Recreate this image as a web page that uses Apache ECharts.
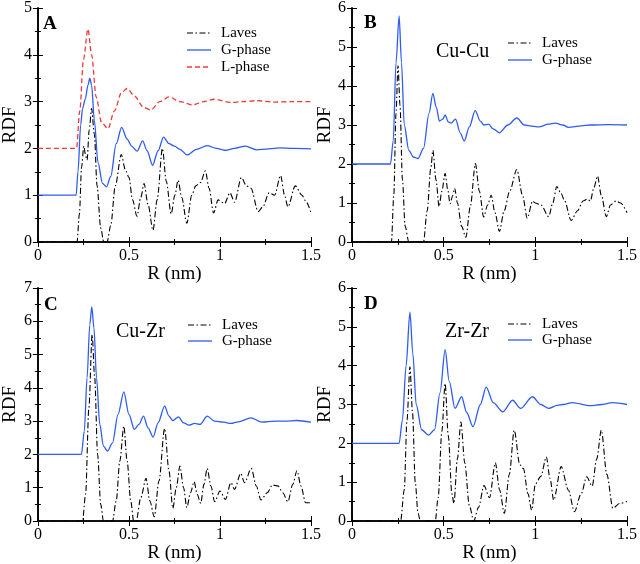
<!DOCTYPE html>
<html>
<head>
<meta charset="utf-8">
<script src="https://cdn.jsdelivr.net/npm/echarts@6/dist/echarts.min.js"></script>
<style>html,body{margin:0;padding:0;background:#fff}#c{width:640px;height:564px}</style>
</head>
<body>
<div id="c"></div>
<script>
// ---- Data: [R (nm), RDF] ----
const xTicks = [0, 0.5, 1, 1.5];
const yMaxA = 5, yMaxB = 6, yMaxC = 7, yMaxD = 6;

const aLaves = [[0,0],[0.215,0],[0.228,0.6],[0.24,1.6],[0.252,2.05],[0.262,1.85],[0.27,1.75],[0.282,2.4],[0.295,2.85],[0.31,2.3],[0.325,1.2],[0.345,0.3],[0.362,0],[0.38,0],[0.4,0.35],[0.425,1.2],[0.458,1.87],[0.48,1.55],[0.5,1.38],[0.52,0.9],[0.544,0.55],[0.565,0.95],[0.583,1.25],[0.605,0.8],[0.632,0.25],[0.655,0.9],[0.684,2.0],[0.705,1.3],[0.732,0.6],[0.752,1.0],[0.77,1.32],[0.79,0.95],[0.818,0.4],[0.845,1.0],[0.867,1.2],[0.893,1.27],[0.92,1.52],[0.94,1.15],[0.965,0.62],[0.99,0.9],[1.01,0.85],[1.025,0.82],[1.055,1.05],[1.08,0.85],[1.118,1.38],[1.145,1.2],[1.17,1.15],[1.21,0.65],[1.235,0.75],[1.27,1.05],[1.3,1.0],[1.333,1.42],[1.355,1.0],[1.373,0.75],[1.414,1.2],[1.45,1.0],[1.475,0.85],[1.5,0.62]];
const aGphase = [[0,1],[0.21,1],[0.22,1.5],[0.235,2.5],[0.245,2.85],[0.26,3.05],[0.275,3.35],[0.285,3.5],[0.295,3.35],[0.31,2.6],[0.33,1.7],[0.355,1.25],[0.377,1.18],[0.4,1.4],[0.43,2.1],[0.46,2.45],[0.49,2.2],[0.515,2.05],[0.545,1.94],[0.575,2.16],[0.6,1.95],[0.63,1.64],[0.66,1.95],[0.69,2.24],[0.72,2.1],[0.75,2.05],[0.78,1.98],[0.82,1.86],[0.87,1.98],[0.93,2.06],[0.98,2.0],[1.03,1.96],[1.08,2.0],[1.14,2.05],[1.2,1.97],[1.27,1.99],[1.33,2.01],[1.4,2.0],[1.5,1.99]];
const aLphase = [[0,2],[0.212,2],[0.23,2.8],[0.25,3.9],[0.275,4.55],[0.295,4.0],[0.32,3.1],[0.35,2.55],[0.385,2.42],[0.42,2.8],[0.46,3.2],[0.49,3.28],[0.53,3.12],[0.58,2.88],[0.62,2.82],[0.67,3.0],[0.72,3.1],[0.78,3.0],[0.85,2.93],[0.91,3.0],[0.97,3.05],[1.06,2.98],[1.13,3.0],[1.2,3.02],[1.3,2.99],[1.4,3.0],[1.5,3.0]];

const bLaves = [[0,0],[0.215,0],[0.228,1.2],[0.24,3.3],[0.251,4.52],[0.262,3.5],[0.275,1.6],[0.29,0.4],[0.31,0],[0.39,0],[0.41,0.8],[0.43,1.9],[0.441,2.35],[0.458,1.6],[0.475,0.91],[0.49,1.3],[0.508,1.76],[0.522,1.35],[0.535,0.98],[0.55,1.2],[0.56,1.38],[0.575,1.0],[0.598,0.4],[0.621,0.12],[0.645,0.9],[0.673,2.01],[0.695,1.3],[0.718,0.64],[0.74,0.95],[0.759,1.2],[0.78,0.75],[0.804,0.27],[0.83,0.8],[0.86,1.3],[0.899,1.86],[0.93,1.2],[0.956,0.61],[0.985,1.05],[1.0,1.0],[1.03,0.95],[1.073,0.65],[1.095,1.0],[1.117,1.42],[1.14,1.25],[1.16,1.05],[1.195,0.55],[1.23,0.8],[1.26,1.05],[1.285,1.1],[1.3,1.05],[1.32,1.4],[1.339,1.69],[1.36,1.2],[1.387,0.65],[1.41,0.95],[1.44,1.05],[1.465,1.0],[1.5,0.75]];
const bGphase = [[0,2],[0.21,2],[0.225,2.6],[0.24,4.6],[0.257,5.8],[0.27,4.6],[0.285,3.0],[0.31,2.35],[0.335,2.18],[0.36,2.14],[0.39,2.4],[0.42,3.3],[0.441,3.81],[0.46,3.45],[0.477,3.1],[0.495,3.15],[0.508,3.26],[0.525,3.08],[0.54,3.05],[0.565,3.15],[0.59,2.8],[0.612,2.59],[0.64,2.95],[0.672,3.37],[0.7,3.1],[0.72,3.0],[0.745,3.02],[0.77,2.9],[0.804,2.8],[0.85,3.0],[0.899,3.18],[0.94,3.0],[0.97,2.98],[1.02,2.95],[1.07,3.02],[1.11,3.05],[1.15,3.0],[1.18,2.94],[1.25,2.98],[1.3,3.0],[1.4,3.01],[1.5,3.0]];

const cLaves = [[0,0],[0.245,0],[0.262,0.8],[0.28,3.4],[0.298,5.6],[0.312,4.3],[0.328,2.0],[0.345,0.5],[0.36,0],[0.41,0],[0.43,0.6],[0.45,1.8],[0.472,2.85],[0.49,1.8],[0.51,0.6],[0.526,0],[0.54,0],[0.565,0.7],[0.594,1.28],[0.615,0.6],[0.639,0.13],[0.665,1.2],[0.696,2.78],[0.72,1.5],[0.741,0.38],[0.76,1.0],[0.78,1.65],[0.8,1.0],[0.818,0.4],[0.838,0.85],[0.858,1.18],[0.875,0.8],[0.894,0.53],[0.912,1.1],[0.93,1.58],[0.95,1.05],[0.971,0.58],[1.0,0.9],[1.03,0.65],[1.06,1.15],[1.08,0.95],[1.114,1.43],[1.135,1.15],[1.172,1.58],[1.2,1.05],[1.225,0.63],[1.26,0.85],[1.288,1.08],[1.32,1.05],[1.345,0.85],[1.373,0.58],[1.4,1.1],[1.423,1.51],[1.445,1.05],[1.47,0.55],[1.5,0.55]];
const cGphase = [[0,2],[0.239,2],[0.255,2.7],[0.27,4.3],[0.285,5.9],[0.296,6.43],[0.308,5.8],[0.322,4.3],[0.34,2.9],[0.36,2.25],[0.382,2.1],[0.41,2.35],[0.44,3.2],[0.472,3.88],[0.5,3.2],[0.53,2.75],[0.555,2.9],[0.58,3.15],[0.605,2.8],[0.633,2.52],[0.66,2.95],[0.696,3.45],[0.72,3.15],[0.74,3.02],[0.772,3.13],[0.8,2.95],[0.83,2.88],[0.86,2.93],[0.89,2.9],[0.93,3.15],[0.97,3.0],[1.02,2.97],[1.06,2.93],[1.1,2.98],[1.17,3.1],[1.23,2.97],[1.3,3.0],[1.36,3.0],[1.42,3.02],[1.5,2.97]];

const dLaves = [[0,0],[0.265,0],[0.285,0.8],[0.3,2.6],[0.316,3.97],[0.33,2.8],[0.345,1.0],[0.36,0.2],[0.373,0],[0.454,0],[0.47,0.6],[0.49,2.3],[0.508,3.54],[0.525,2.2],[0.545,0.7],[0.556,0.45],[0.575,1.6],[0.594,2.55],[0.615,1.5],[0.64,0.4],[0.664,0],[0.69,0.35],[0.72,0.91],[0.75,0.6],[0.782,1.5],[0.805,0.8],[0.831,0.2],[0.858,1.2],[0.885,2.34],[0.915,1.45],[0.935,1.35],[0.96,0.7],[0.98,0.28],[1.0,0.95],[1.03,1.15],[1.06,1.65],[1.08,1.1],[1.1,0.54],[1.141,1.4],[1.18,0.8],[1.213,0.24],[1.25,0.7],[1.28,1.14],[1.31,0.9],[1.335,1.6],[1.36,2.34],[1.39,1.2],[1.423,0.33],[1.46,0.45],[1.5,0.5]];
const dGphase = [[0,2],[0.257,2],[0.275,2.6],[0.295,4.0],[0.316,5.38],[0.332,4.3],[0.35,3.0],[0.38,2.35],[0.418,2.21],[0.45,2.35],[0.48,3.3],[0.508,4.41],[0.53,3.6],[0.562,2.9],[0.598,3.2],[0.625,2.8],[0.66,2.43],[0.7,3.0],[0.732,3.45],[0.77,3.05],[0.822,2.81],[0.876,3.11],[0.92,2.9],[0.984,3.2],[1.03,3.0],[1.073,2.9],[1.12,2.98],[1.15,3.0],[1.2,3.05],[1.3,2.97],[1.36,3.0],[1.42,3.05],[1.5,3.0]];

const panelLabels = ['A', 'B', 'C', 'D'];
const pairLabels = ['', 'Cu-Cu', 'Cu-Zr', 'Zr-Zr'];
const legendNamesA = ['Laves', 'G-phase', 'L-phase'];
const legendNames = ['Laves', 'G-phase'];

// ---- Chart ----
const FONT = '"Liberation Serif", "Times New Roman", serif';
const BLUE = '#2f5cf0', RED = '#f03a3a', BLACK = '#000';
const grids = [
  {left: 32, top: 7, width: 279, height: 235},
  {left: 352, top: 7, width: 279, height: 235},
  {left: 32, top: 288, width: 279, height: 233},
  {left: 352, top: 288, width: 279, height: 233}
];
const yMax = [yMaxA, yMaxB, yMaxC, yMaxD];
const xAxes = [], yAxes = [];
const axLine = {show: true, lineStyle: {color: '#000', width: 1.6}};
const tick = {inside: true, length: 5, lineStyle: {color: '#000', width: 1}};
const minor = {show: true, splitNumber: 2, length: 3, lineStyle: {color: '#000', width: 1}};
grids.forEach((g, i) => {
  xAxes.push({type: 'value', gridIndex: i, min: xTicks[0], max: xTicks[xTicks.length-1], interval: 0.5,
    name: 'R (nm)', nameLocation: 'middle', nameGap: 23,
    nameTextStyle: {fontFamily: FONT, fontSize: 19, color: '#000'},
    axisLine: axLine, splitLine: {show: false}, axisTick: tick, minorTick: minor,
    axisLabel: {fontFamily: FONT, fontSize: 16, color: '#000', margin: 6}});
  xAxes.push({type: 'value', gridIndex: i, position: 'top', min: 0, max: 1.5, interval: 0.5,
    axisLine: axLine, splitLine: {show: false}, axisLabel: {show: false}, axisTick: tick, minorTick: minor});
  yAxes.push({type: 'value', gridIndex: i, min: 0, max: yMax[i], interval: 1,
    name: 'RDF', nameLocation: 'middle', nameGap: 17,
    nameTextStyle: {fontFamily: FONT, fontSize: 19, color: '#000'},
    axisLine: axLine, splitLine: {show: false}, axisTick: tick, minorTick: minor,
    axisLabel: {fontFamily: FONT, fontSize: 16, color: '#000', margin: 6}});
  yAxes.push({type: 'value', gridIndex: i, position: 'right', min: 0, max: yMax[i], interval: 1,
    axisLine: axLine, splitLine: {show: false}, axisLabel: {show: false}, axisTick: tick, minorTick: minor});
});

const lavesStyle = {color: BLACK, width: 1.1, type: [6, 2.5, 1.5, 2.5]};
const gStyle = {color: BLUE, width: 1.3, type: 'solid'};
const lStyle = {color: RED, width: 1.3, type: [5, 3]};
const styleByName = {'Laves': lavesStyle, 'G-phase': gStyle, 'L-phase': lStyle};
function ser(name, data, i) {
  const style = styleByName[name];
  return {name: name, type: 'line', data: data, xAxisIndex: 2*i, yAxisIndex: 2*i,
    symbol: 'none', smooth: 0.3, smoothMonotone: 'x', lineStyle: style, itemStyle: {color: style.color},
    animation: false, z: name === 'Laves' ? 3 : 2};
}
const series = [
  ser('L-phase', aLphase, 0),
  ser('G-phase', aGphase, 0),
  ser('Laves', aLaves, 0),
  ser('G-phase', bGphase, 1),
  ser('Laves', bLaves, 1),
  ser('G-phase', cGphase, 2),
  ser('Laves', cLaves, 2),
  ser('G-phase', dGphase, 3),
  ser('Laves', dLaves, 3)
];

// legend drawn as graphics (line sample + label)
const graphics = [];
function legend(x0, y0, names, step) {
  names.forEach((n, k) => {
    const y = y0 + k * step;
    const st = styleByName[n];
    graphics.push({type: 'line', shape: {x1: x0, y1: y, x2: x0 + 24, y2: y},
      style: {stroke: st.color, lineWidth: st.width, lineDash: Array.isArray(st.type) ? st.type : null}});
    graphics.push({type: 'text', x: x0 + 34, y: y,
      style: {text: n, font: '15px ' + FONT, fill: '#000', verticalAlign: 'middle'}});
  });
}
legend(187, 33, legendNamesA, 17);
legend(508, 43, legendNames, 17);
legend(188, 325, legendNames, 16);
legend(508, 324, legendNames, 16);

const letterPos = [[43, 24], [364, 23], [44, 305], [364, 304]];
const pairPos = [[0, 0], [436, 52], [116, 332], [445, 332]];
panelLabels.forEach((t, i) => {
  graphics.push({type: 'text', x: letterPos[i][0], y: letterPos[i][1],
    style: {text: t, font: 'bold 19px ' + FONT, fill: '#000', verticalAlign: 'middle'}});
  if (pairLabels[i]) graphics.push({type: 'text', x: pairPos[i][0], y: pairPos[i][1],
    style: {text: pairLabels[i], font: '20px ' + FONT, fill: '#000', verticalAlign: 'middle'}});
});

const chart = echarts.init(document.getElementById('c'));
chart.setOption({
  animation: false,
  backgroundColor: '#fff',
  textStyle: {fontFamily: FONT},
  grid: grids,
  xAxis: xAxes,
  yAxis: yAxes,
  graphic: graphics,
  series: series
});
</script>
</body>
</html>
